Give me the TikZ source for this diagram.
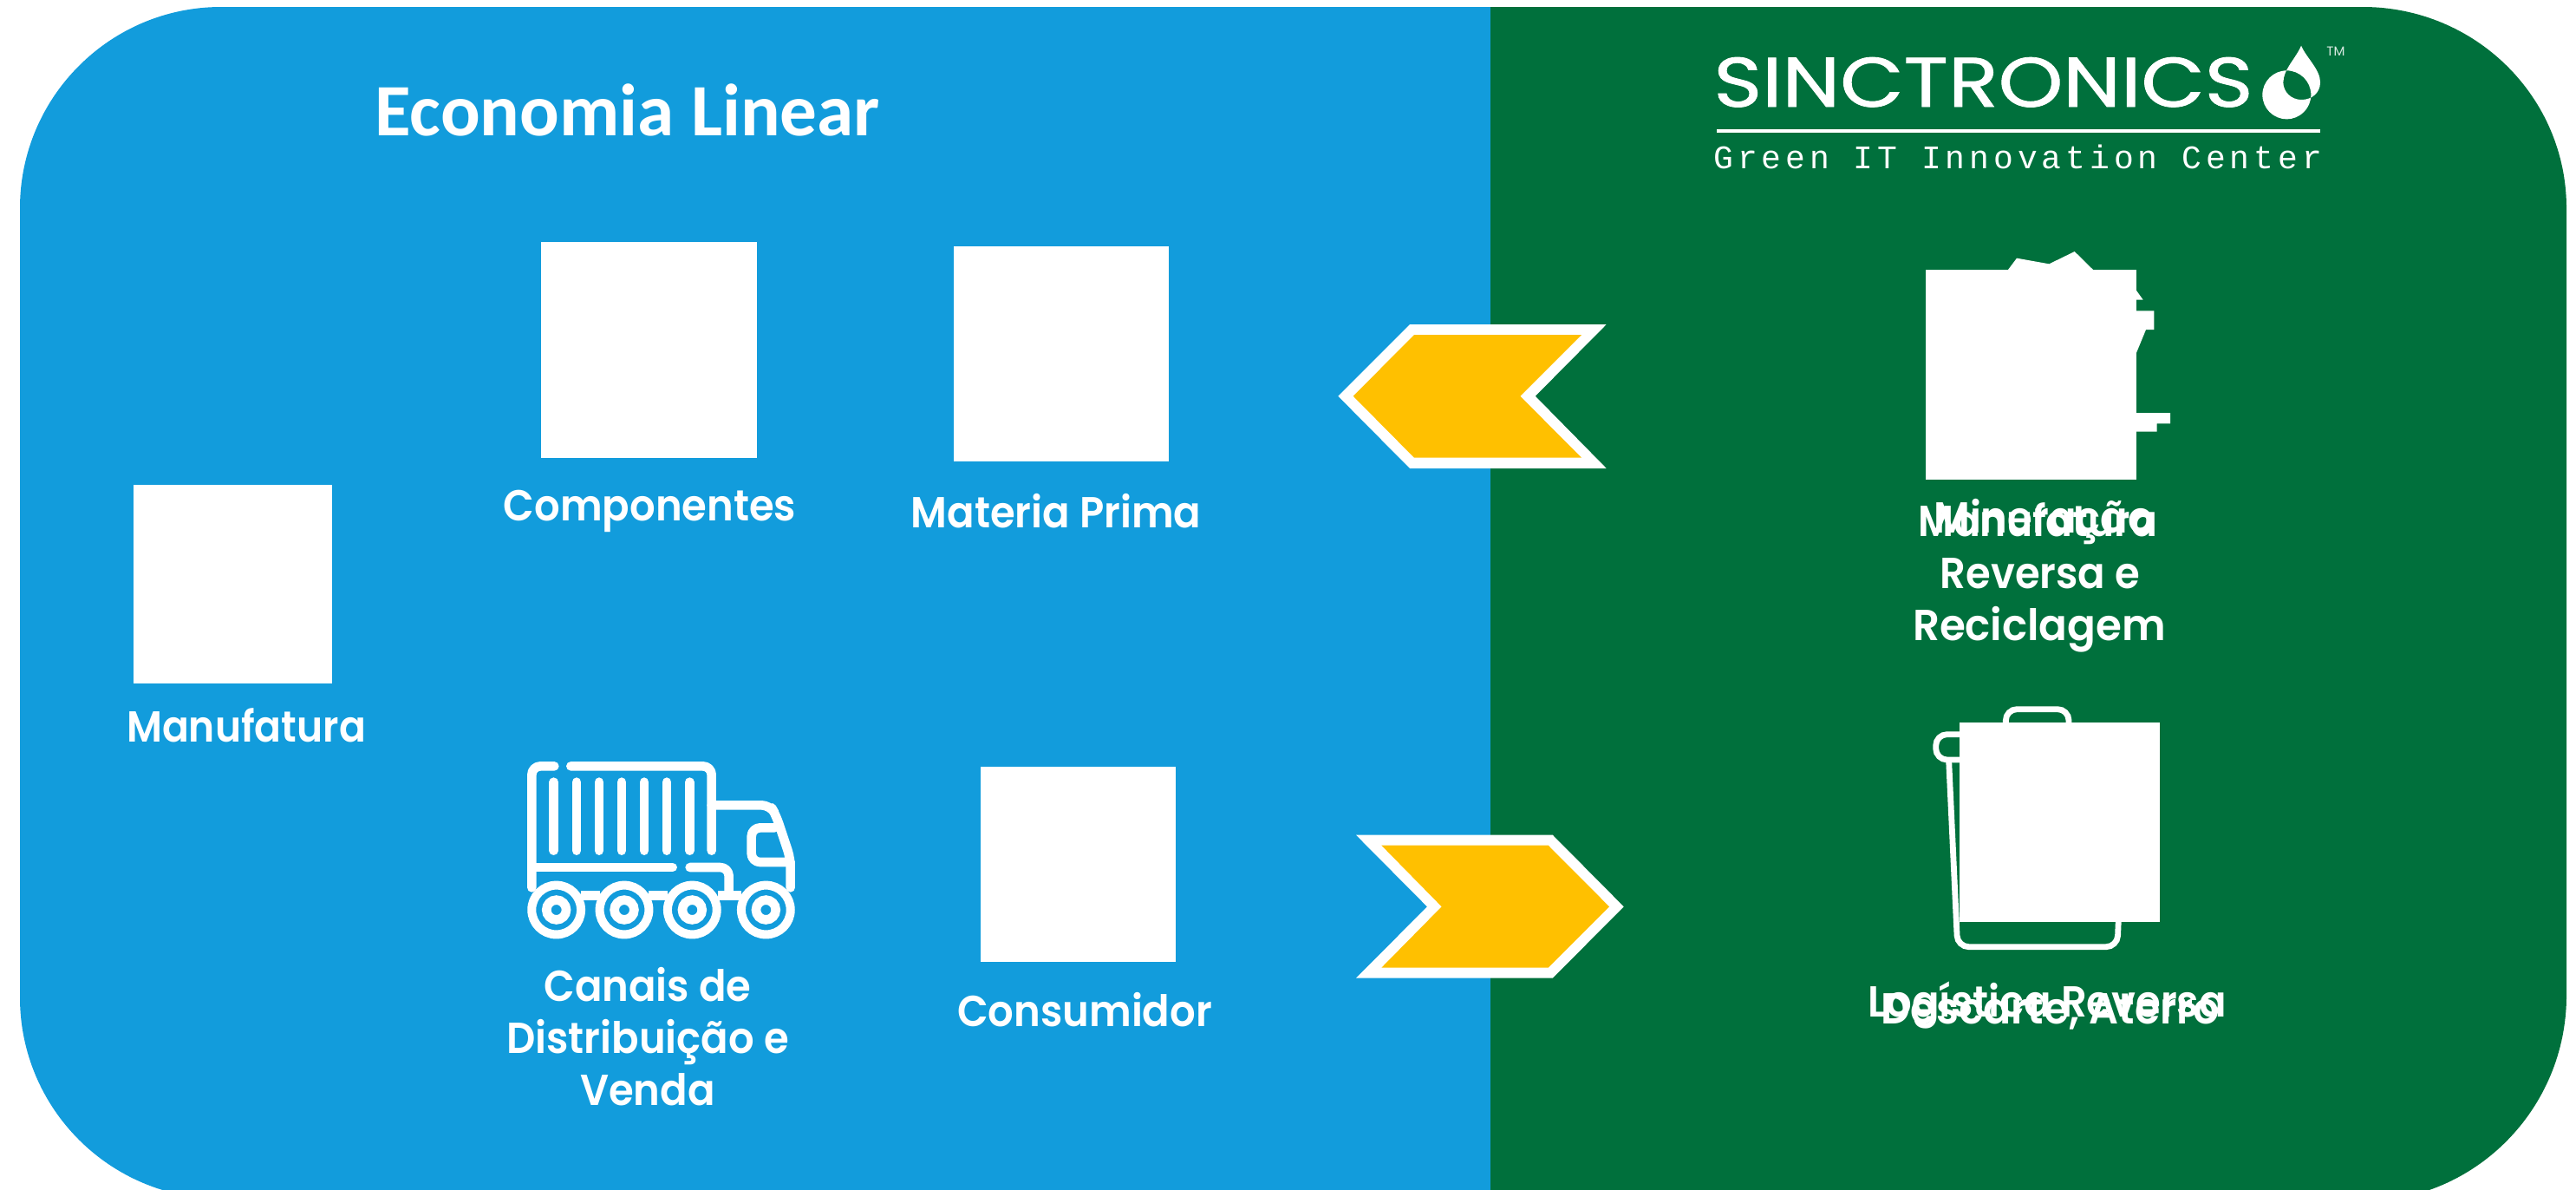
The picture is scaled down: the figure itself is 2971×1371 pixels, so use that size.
\documentclass[tikz,border=0pt]{standalone}
\usepackage{fontspec}
\setmainfont{Poppins}
\newfontfamily\labfont{Poppins SemiBold}[FakeStretch=0.93]
\newfontfamily\logofont{Poppins}[FakeBold=1]
\newfontfamily\titlefont{Carlito}
\newfontfamily\subfont{Liberation Mono}[LetterSpace=13]
\definecolor{panelblue}{HTML}{129CDC}
\definecolor{panelgreen}{HTML}{00703C}
\definecolor{gold}{HTML}{FFC000}
\tikzset{
  lab/.style={text=white,inner sep=0pt,anchor=base,align=center,font=\labfont\fontsize{25pt}{30pt}\selectfont},
  sq/.style={fill=white,draw=none,inner sep=0pt,outer sep=0pt},
  trk/.style={draw=white,line width=5.3pt,line cap=round,line join=round,rounded corners=5pt},
  binline/.style={draw=white,line width=3.4pt,rounded corners=6.5pt}
}
\begin{document}
\begin{tikzpicture}[x=0.5pt,y=-0.5pt]
\useasboundingbox (0,0) rectangle (2971,1371);
\clip (0,0) rectangle (2971,1371);
% panels
\fill[panelblue] (1719,8) -- (255,8) .. controls (127,8) and (23,112) .. (23,240) -- (23,1150)
  .. controls (23,1278) and (127,1382) .. (255,1382) -- (1719,1382) -- cycle;
\fill[panelgreen] (1719,8) -- (2725,8) .. controls (2855,8) and (2960,112) .. (2960,240) -- (2960,1148)
  .. controls (2960,1278) and (2855,1385) .. (2725,1385) -- (1719,1385) -- cycle;
% title
\node (title) [anchor=base west,inner sep=0pt,text=white,font=\titlefont\bfseries\fontsize{42.6pt}{48pt}\selectfont] at (432,156) {Economia Linear};
% logo
\node (logoname) [anchor=base west,inner sep=0pt,text=white] at (1976,123) {\resizebox{311pt}{28.5pt}{\logofont SINCTRONICS}};
\draw[white,line width=2.2pt] (1980,151) -- (2675.5,151);
\node (logosub) [anchor=base west,inner sep=0pt,text=white,font=\subfont\fontsize{19pt}{20pt}\selectfont] at (1976,194) {Green IT Innovation Center};
\begin{scope}[shift={(2600,0)},x=0.16667pt,y=-0.16667pt]
\fill[white,even odd rule] (162,158) .. controls (180,200) and (228,240) .. (228,285)
  .. controls (228,320) and (200,345) .. (163,345) .. controls (128,345) and (100,318) .. (100,285)
  .. controls (100,240) and (145,200) .. (162,158) -- cycle
  (112,328) circle [radius=14pt];
\end{scope}
\node (tm) [anchor=base west,inner sep=0pt,text=white!85!panelgreen,font=\fontsize{7.5pt}{8pt}\selectfont] at (2683,64) {TM};
% left squares
\node (sqcomp) [sq,minimum width=124.5pt,minimum height=124.5pt] at (748.5,403.5) {};
\node (sqmat) [sq,minimum width=124pt,minimum height=124pt] at (1224,408) {};
\node (sqman) [sq,minimum width=114.5pt,minimum height=114.5pt] at (268.5,673.5) {};
\node (sqcons) [sq,minimum width=112.5pt,minimum height=112.5pt] at (1243.5,996.5) {};
% truck
\begin{scope}[shift={(580,860)},x=0.16667pt,y=-0.16667pt]
\draw[trk] (178,70) -- (100,70) -- (100,490);
\draw[trk] (235,70) -- (722,70) -- (722,362);
\foreach \sx in {176,255,333,411,489,567,646} \draw[trk] (\sx,125) -- (\sx,362);
\draw[trk] (100,420) -- (587,420);
\draw[trk] (647,420) -- (782,420) -- (782,515);
\draw[trk] (722,205) -- (925,205) -- (945,240) -- (995,390) -- (995,490);
\draw[trk] (940,283) -- (860,283) -- (860,402) -- (995,402);
\draw[trk,rounded corners=0pt,line cap=butt] (270,517) -- (335,517) (505,517) -- (570,517) (745,517) -- (825,517);
\foreach \wx in {185,420,655,910} {
  \draw[white,line width=5pt] (\wx,567) circle [radius=14.2pt];
  \draw[white,line width=5.3pt] (\wx,567) circle [radius=5.7pt];
}
\end{scope}
% chevrons
\fill[white] (1626,374) -- (1852.7,374) -- (1770.7,456.7) -- (1852.7,540) -- (1626,540) -- (1543.3,456.7) -- cycle;
\fill[gold] (1631,386) -- (1824,386) -- (1753.3,456.7) -- (1824,527.7) -- (1631,527.7) -- (1560.7,456.7) -- cycle;
\fill[white] (1564,962.7) -- (1790.7,962.7) -- (1872.7,1045.3) -- (1790.7,1127.7) -- (1564,1127.7) -- (1646,1045.3) -- cycle;
\fill[gold] (1593.3,974.7) -- (1785.7,974.7) -- (1856,1045.3) -- (1785.7,1115.7) -- (1593.3,1115.7) -- (1662.7,1045.3) -- cycle;
% mining icon
\begin{scope}[shift={(2150,270)},x=0.16667pt,y=-0.16667pt]
\fill[white] (498,123) -- (528,83) -- (640,103) -- (728,60) -- (792,123) -- cycle;
\fill[white] (942,195) -- (965,227) -- (942,227) -- cycle;
\fill[white] (942,265) -- (1003,265) -- (1003,330) -- (975,330) -- (942,410) -- cycle;
\fill[white] (942,618) -- (1059,618) -- (1059,655) -- (1013,655) -- (1013,683) -- (942,683) -- cycle;
\end{scope}
\node (sqmin) [sq,minimum width=121.5pt,minimum height=121pt] at (2342.5,432) {};
% bin icon
\begin{scope}[shift={(2130,790)},x=0.16667pt,y=-0.16667pt]
\draw[binline] (550,140) -- (550,83) -- (768,83) -- (768,140);
\draw[binline] (400,170) -- (308,170) -- (308,258) -- (400,258);
\draw[binline] (353,262) -- (383,905) -- (936,905) -- (940,810);
\end{scope}
\node (sqbin) [sq,minimum width=115.5pt,minimum height=115pt] at (2375.5,948) {};
% labels
\node (lcomp) [lab] at (749.5,600) {Componentes};
\node (lmat) [lab] at (1218,608) {Materia Prima};
\node (lman) [lab] at (284,855) {\scalebox{.98}[1]{Manufatura}};
\node (lcan1) [lab] at (747,1154) {Canais de};
\node (lcan2) [lab] at (747,1214) {Distribuição e};
\node (lcan3) [lab] at (747,1274) {Venda};
\node (lcons) [lab] at (1251,1183) {Consumidor};
\node (lmin) [lab] at (2357,614) {Mineração};
\node (lmr1) [lab] at (2350,618) {\scalebox{.98}[1]{Manufatura}};
\node (lmr2) [lab] at (2353,678) {Reversa e};
\node (lmr3) [lab] at (2352,738) {\scalebox{1.04}[1]{Reciclagem}};
\node (llog) [lab] at (2361,1172) {Logística Reversa};
\node (ldes) [lab] at (2365,1180) {\scalebox{1.02}[1]{Descarte, Aterro}};
\end{tikzpicture}
\end{document}
